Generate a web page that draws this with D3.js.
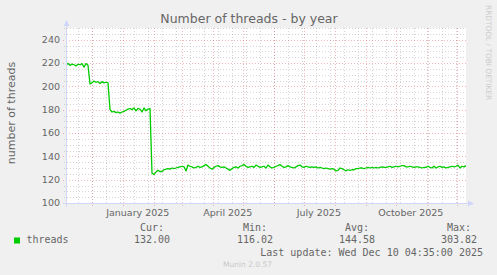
<!DOCTYPE html>
<html>
<head>
<meta charset="utf-8">
<script src="https://cdn.jsdelivr.net/npm/d3@7/dist/d3.min.js"></script>
<style>
  html, body { margin: 0; padding: 0; background: #F0F0F0; }
  svg { display: block; }
</style>
</head>
<body>
<svg id="chart" width="497" height="275"></svg>
<script>
// time span of the graph (400 days, ending at last update)
const rangeStart = "2024-11-05T04:35:00Z"
const rangeEnd = "2025-12-10T04:35:00Z"
const stepDays = 2

// threads samples, one every 2 days from rangeStart
const threads = [
  218.5, 219.5, 218, 219, 218.5, 217.5, 219, 218.5, 219.5, 216.5, 219.5, 218,
  202, 203, 204.5, 203.5, 204, 202.5, 204, 203, 203.5, 203,
  180, 178, 178.5, 177.5, 178, 177, 178, 178.5, 179.5, 180.5, 181, 180, 181.5, 179, 181, 180.5, 178, 181.5, 179, 180.5, 181,
  125.5,
  124.5, 126.5, 128, 127, 127, 128.5, 129, 129.5, 129, 130, 129.5, 130, 130.5, 131, 131.5, 131,
  127.5, 132.5, 131.5, 131, 130, 130.5, 131.5, 130.5, 131, 132, 133, 131.5, 130, 129, 130.5, 131.5,
  132, 131, 130.5, 131, 130, 129, 128, 129.5, 130.5, 131, 130, 131.5, 132, 133, 131.5, 130.5,
  131, 131.5, 130.5, 132.5, 131.5, 130.5, 131, 131.5, 130, 132.5, 131, 130, 130.5, 131.5, 132, 133,
  131.5, 130.5, 131, 132, 131, 130.5, 130, 131, 132, 132.5, 131, 130.5, 131.5, 131, 130.5, 131,
  130.5, 131, 130, 130.5, 130, 129.5, 130, 129.5, 129, 129.5, 129, 127.5, 128, 130, 129.5, 128.5,
  127.5, 128.5, 128, 128.5, 128.5, 129.5, 129.5, 130, 130, 129.5, 130, 130.5, 130, 130.5, 130, 130.5,
  130, 130.5, 131, 130.5, 130.5, 131, 131.5, 130.5, 131, 131.5, 131, 131.5, 132, 132, 131, 131,
  131.5, 131, 130.5, 131, 131, 130.5, 130, 130.5, 130.5, 131.5, 130.5, 130, 131.5, 130, 131, 131.5,
  130.5, 131, 130, 130.5, 131, 131.5, 131, 131.5, 132.5, 130, 131.5, 131, 132
]

const yTicks = [100, 120, 140, 160, 180, 200, 220, 240]
const monthLabels = ["2025-01-01", "2025-04-01", "2025-07-01", "2025-10-01"]

const legendStats = [
  { label: "Cur:", value: "132.00", x: 140 },
  { label: "Min:", value: "116.02", x: 243 },
  { label: "Avg:", value: "144.58", x: 345 },
  { label: "Max:", value: "303.82", x: 447 }
]

const margin = { left: 66, right: 31, top: 28, bottom: 72 }
const W = 497, H = 275
const plotW = W - margin.left - margin.right   // 400
const plotH = H - margin.top - margin.bottom   // 175

const fontSans = "'DejaVu Sans', sans-serif"
const fontMono = "'DejaVu Sans Mono', monospace"
const textColor = "#666666"
const axisColor = "#CFD6F8"

const t0 = new Date(rangeStart)
const t1 = new Date(rangeEnd)

const data = threads.map((v, i) => ({
  date: d3.utcDay.offset(t0, i * stepDays),
  value: v
}))

const x = d3.scaleUtc()
  .domain([t0, t1])
  .range([margin.left, margin.left + plotW])

const y = d3.scaleLinear()
  .domain([100, 250])
  .range([margin.top + plotH, margin.top])

const svg = d3.select("#chart")

svg.append("rect")
  .attr("width", W).attr("height", H)
  .attr("fill", "#F0F0F0")

// canvas
svg.append("rect")
  .attr("x", margin.left).attr("y", margin.top)
  .attr("width", plotW).attr("height", plotH)
  .attr("fill", "#FFFFFF")

const grid = svg.append("g").attr("shape-rendering", "crispEdges")
const minorColor = "rgba(150,150,150,0.4)"
const majorColor = "rgba(225,100,100,0.45)"

// horizontal minor grid (every 5)
const yMinor = d3.range(105, 251, 5).filter(v => v % 20 !== 0)
grid.selectAll(".hmin")
  .data(yMinor)
  .join("line")
    .attr("x1", margin.left - 2).attr("x2", margin.left + plotW)
    .attr("y1", d => Math.round(y(d)) + 0.5).attr("y2", d => Math.round(y(d)) + 0.5)
    .attr("stroke", minorColor)
    .attr("stroke-dasharray", "1,2")

// vertical minor grid (every two weeks)
const xMinor = d3.utcDay.range(new Date(Date.UTC(2024, 10, 17)), t1, 14)
grid.selectAll(".vmin")
  .data(xMinor)
  .join("line")
    .attr("x1", d => Math.round(x(d)) + 0.5).attr("x2", d => Math.round(x(d)) + 0.5)
    .attr("y1", margin.top).attr("y2", margin.top + plotH + 2)
    .attr("stroke", minorColor)
    .attr("stroke-dasharray", "1,2")

// horizontal major grid
grid.selectAll(".hmaj")
  .data(yTicks.filter(v => v > 100))
  .join("line")
    .attr("x1", margin.left - 3).attr("x2", margin.left + plotW)
    .attr("y1", d => Math.round(y(d)) + 0.5).attr("y2", d => Math.round(y(d)) + 0.5)
    .attr("stroke", majorColor)
    .attr("stroke-dasharray", "1,2")

// vertical major grid (months)
const xMajor = d3.utcMonth.range(d3.utcMonth.ceil(t0), t1)
grid.selectAll(".vmaj")
  .data(xMajor)
  .join("line")
    .attr("x1", d => Math.round(x(d)) + 0.5).attr("x2", d => Math.round(x(d)) + 0.5)
    .attr("y1", margin.top).attr("y2", margin.top + plotH + 3)
    .attr("stroke", majorColor)
    .attr("stroke-dasharray", "1,2")

// the line
const line = d3.line()
  .x(d => x(d.date))
  .y(d => y(d.value))

svg.append("clipPath").attr("id", "clip")
  .append("rect")
    .attr("x", margin.left).attr("y", margin.top)
    .attr("width", plotW).attr("height", plotH)

svg.append("path")
  .datum(data)
  .attr("clip-path", "url(#clip)")
  .attr("fill", "none")
  .attr("stroke", "#00CC00")
  .attr("stroke-width", 1.3)
  .attr("stroke-linejoin", "round")
  .attr("d", line)

// axes with arrows
const axes = svg.append("g")
const baseY = Math.round(y(100)) + 0.5
axes.append("line")
  .attr("x1", margin.left - 3).attr("x2", margin.left + plotW + 4)
  .attr("y1", baseY).attr("y2", baseY)
  .attr("stroke", axisColor)
axes.append("line")
  .attr("x1", margin.left + 0.5).attr("x2", margin.left + 0.5)
  .attr("y1", baseY + 3).attr("y2", margin.top - 4)
  .attr("stroke", axisColor)
axes.append("path")
  .attr("d", `M${margin.left + plotW + 2},${baseY - 3} L${margin.left + plotW + 8},${baseY} L${margin.left + plotW + 2},${baseY + 3} Z`)
  .attr("fill", axisColor)
axes.append("path")
  .attr("d", `M${margin.left - 2.5},${margin.top - 2} L${margin.left + 0.5},${margin.top - 8} L${margin.left + 3.5},${margin.top - 2} Z`)
  .attr("fill", axisColor)

// y tick labels
svg.append("g")
  .selectAll("text")
  .data(yTicks)
  .join("text")
    .attr("x", 60)
    .attr("y", d => y(d))
    .attr("dy", "0.35em")
    .attr("text-anchor", "end")
    .attr("font-family", fontSans)
    .attr("font-size", "9.5px")
    .attr("fill", textColor)
    .text(d => d)

// x labels, centred mid-month
const fmtMonth = d3.utcFormat("%B %Y")
svg.append("g")
  .selectAll("text")
  .data(monthLabels.map(s => new Date(s + "T00:00:00Z")))
  .join("text")
    .attr("x", d => x(d3.utcDay.offset(d, 15)))
    .attr("y", 215.5)
    .attr("text-anchor", "middle")
    .attr("font-family", fontSans)
    .attr("font-size", "9.5px")
    .attr("fill", textColor)
    .text(d => fmtMonth(d))

// title
svg.append("text")
  .attr("x", 249).attr("y", 23)
  .attr("text-anchor", "middle")
  .attr("font-family", fontSans)
  .attr("font-size", "12.5px")
  .attr("fill", textColor)
  .text("Number of threads - by year")

// y axis title
svg.append("text")
  .attr("transform", "translate(15,113) rotate(-90)")
  .attr("text-anchor", "middle")
  .attr("font-family", fontSans)
  .attr("font-size", "11px")
  .attr("fill", textColor)
  .text("number of threads")

// vertical watermark
svg.append("text")
  .attr("transform", "translate(485.5,5) rotate(90)")
  .attr("font-family", fontSans)
  .attr("font-size", "7.4px")
  .attr("fill", "#CCCCCC")
  .text("RRDTOOL / TOBI OETIKER")

// legend
svg.append("rect")
  .attr("x", 14).attr("y", 237.5)
  .attr("width", 6).attr("height", 6)
  .attr("fill", "#00CC00")

svg.append("text")
  .attr("x", 26.5).attr("y", 243)
  .attr("font-family", fontMono).attr("font-size", "10px")
  .attr("fill", textColor)
  .text("threads")

const stats = svg.append("g")
  .selectAll("g")
  .data(legendStats)
  .join("g")
stats.append("text")
  .attr("x", d => d.x).attr("y", 231)
  .attr("font-family", fontMono).attr("font-size", "10px")
  .attr("fill", textColor)
  .text(d => d.label)
stats.append("text")
  .attr("x", d => d.x + 30).attr("y", 243)
  .attr("text-anchor", "end")
  .attr("font-family", fontMono).attr("font-size", "10px")
  .attr("fill", textColor)
  .text(d => d.value)

svg.append("text")
  .attr("x", 483).attr("y", 255.5)
  .attr("text-anchor", "end")
  .attr("font-family", fontMono).attr("font-size", "10px")
  .attr("fill", textColor)
  .text("Last update: Wed Dec 10 04:35:00 2025")

svg.append("text")
  .attr("x", 247.5).attr("y", 267)
  .attr("text-anchor", "middle")
  .attr("font-family", fontSans).attr("font-size", "7.5px")
  .attr("fill", "#C8C8C8")
  .text("Munin 2.0.57")
</script>
</body>
</html>
